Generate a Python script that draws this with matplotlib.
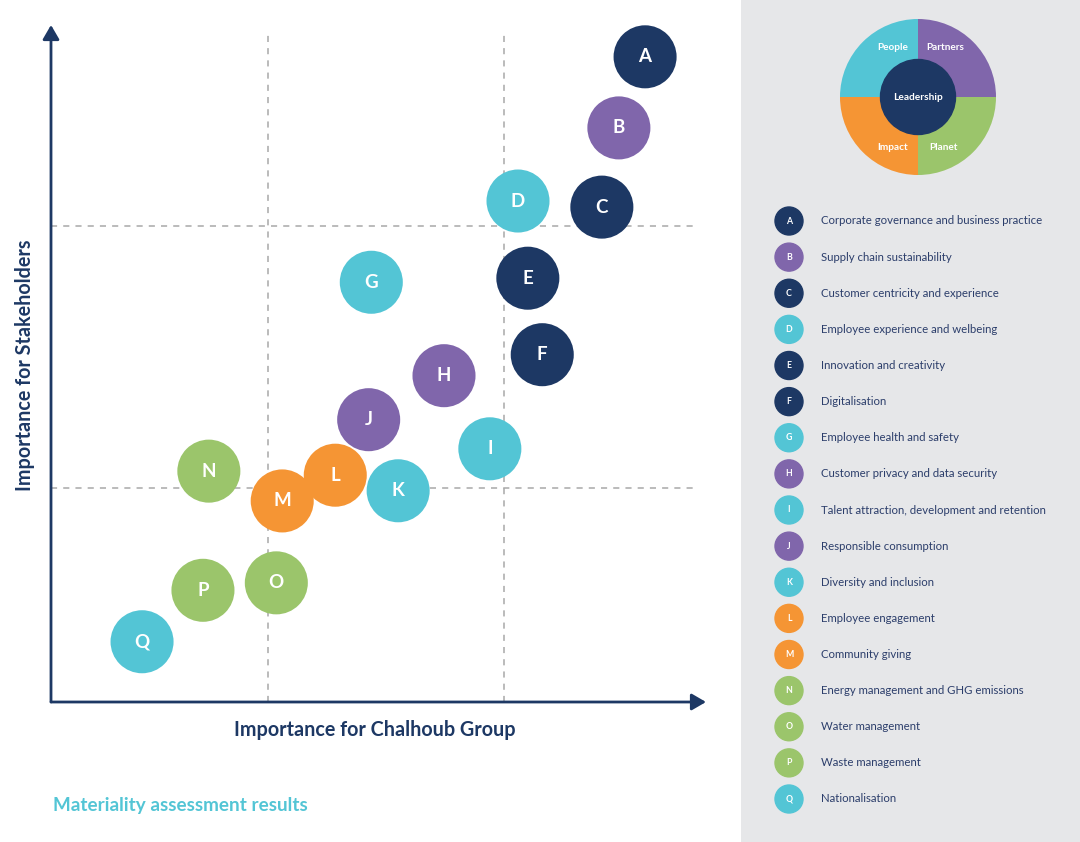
import numpy as np
import matplotlib
matplotlib.use("Agg")
import matplotlib.pyplot as plt
from matplotlib.patches import Rectangle, Circle

plt.rcParams['font.family'] = ['Lato', 'DejaVu Sans']

# Colours of the five pillars
navy = '#1d3864'
purple = '#8066ab'
cyan = '#53c5d5'
orange = '#f59534'
green = '#9bc56b'

# Topics (letters, names, pillar colour)
letters = ['A', 'B', 'C', 'D', 'E', 'F', 'G', 'H', 'I', 'J', 'K', 'L', 'M', 'N', 'O', 'P', 'Q']
topics = ['Corporate governance and business practice',
          'Supply chain sustainability',
          'Customer centricity and experience',
          'Employee experience and welbeing',
          'Innovation and creativity',
          'Digitalisation',
          'Employee health and safety',
          'Customer privacy and data security',
          'Talent attraction, development and retention',
          'Responsible consumption',
          'Diversity and inclusion',
          'Employee engagement',
          'Community giving',
          'Energy management and GHG emissions',
          'Water management',
          'Waste management',
          'Nationalisation']
colours = [navy, purple, navy, cyan, navy, navy, cyan, purple, cyan, purple,
           cyan, orange, orange, green, green, green, cyan]

# Importance for Chalhoub Group (x) and for stakeholders (y), 0-100 scale
group_imp = [90.7, 86.7, 84.1, 71.3, 72.8, 75.0, 48.9, 60.0, 67.0, 48.5,
             53.0, 43.4, 35.3, 24.1, 34.4, 23.2, 13.9]
stake_imp = [95.3, 84.8, 73.1, 74.0, 62.6, 51.3, 62.0, 48.2, 37.4, 41.7,
             31.2, 33.5, 29.7, 34.1, 17.6, 16.5, 8.9]

# Quadrant thresholds
x_cuts = [33.1, 69.2]
y_cuts = [31.6, 70.3]

# Donut of pillars
pillars = ['Partners', 'Planet', 'Impact', 'People']
pillar_share = [1, 1, 1, 1]
pillar_colours = [purple, green, orange, cyan]

W, H = 1080, 842
fig = plt.figure(figsize=(W / 100, H / 100), dpi=100)
fig.patch.set_facecolor('white')

# ---- main matrix ----
ax = fig.add_axes([51 / W, (H - 702) / H, 655 / W, 677 / H])
ax.set_xlim(0, 100)
ax.set_ylim(0, 100)
ax.axis('off')

for xc in x_cuts:
    ax.plot([xc, xc], [0, 98.5], ls=(0, (4, 4)), color='#a8a8a8', lw=1.1, zorder=1)
for yc in y_cuts:
    ax.plot([0, 98.6], [yc, yc], ls=(0, (4, 4)), color='#a8a8a8', lw=1.1, zorder=1)

arrow = dict(arrowstyle='-|>,head_length=0.86,head_width=0.5', color=navy, lw=2,
             shrinkA=0, shrinkB=0, mutation_scale=10)
ax.annotate('', xy=(0, 100), xytext=(0, 0), arrowprops=arrow, zorder=2)
ax.annotate('', xy=(100, 0), xytext=(0, 0), arrowprops=arrow, zorder=2)

ax.scatter(group_imp, stake_imp, s=2060, c=colours, edgecolors='none', zorder=3)
for lt, x, y in zip(letters, group_imp, stake_imp):
    ax.text(x, y, lt, color='white', fontsize=13.5, fontweight='bold',
            ha='center', va='center', zorder=4)

fig.text(375 / W, 1 - 730 / H, 'Importance for Chalhoub Group', color=navy,
         fontsize=14.2, fontweight='bold', ha='center', va='center')
fig.text(25 / W, 1 - 365 / H, 'Importance for Stakeholders', color=navy,
         fontsize=14.2, fontweight='bold', ha='center', va='center', rotation=90)
fig.text(53 / W, 1 - 805 / H, 'Materiality assessment results', color=cyan,
         fontsize=13.6, fontweight='bold', ha='left', va='center')

# ---- side panel ----
px = fig.add_axes([741 / W, 0, (W - 741) / W, 1])
px.set_xlim(741, W)
px.set_ylim(0, H)
px.axis('off')
px.add_patch(Rectangle((741, 0), W - 741, H, color='#e6e7e9', zorder=0))

cx, cy = 918, H - 97
px.pie(pillar_share, colors=pillar_colours, startangle=90, counterclock=False,
       center=(cx, cy), radius=78, wedgeprops=dict(width=41, edgecolor='none'),
       frame=True)
px.set_xlim(741, W)
px.set_ylim(0, H)
px.axis('off')
px.add_patch(Circle((cx, cy), 37.5, color=navy, zorder=3))
px.text(cx, cy, 'Leadership', color='white', fontsize=7.3, fontweight='bold',
        ha='center', va='center', zorder=4)
pillar_pos = [(945, 48), (943, 147), (893, 147), (893, 48)]
for name, (lx, ly) in zip(pillars, pillar_pos):
    px.text(lx, H - ly, name, color='white', fontsize=7.2, fontweight='bold',
            ha='center', va='center', zorder=4)

for i, (lt, name, col) in enumerate(zip(letters, topics, colours)):
    ly = H - (221 + i * 36.125)
    px.add_patch(Circle((789, ly), 14, color=col, zorder=3))
    px.text(789, ly, lt, color='white', fontsize=6.3, fontweight='bold',
            ha='center', va='center', zorder=4)
    px.text(821, ly, name, color='#2c3e6b', fontsize=8.2,
            ha='left', va='center', zorder=4)

fig.savefig('out.png', dpi=100)
